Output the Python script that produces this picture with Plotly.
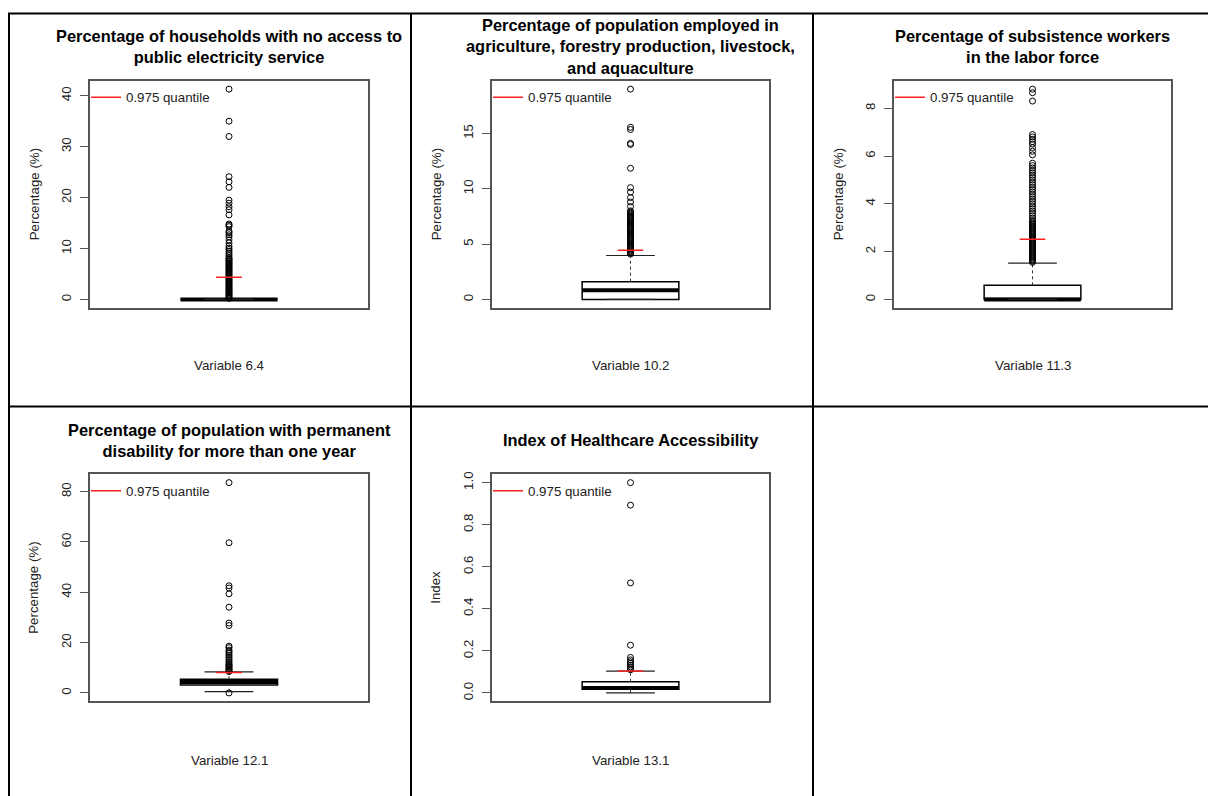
import plotly.graph_objects as go

# ---------------- data ----------------
titles = [
    "Percentage of households with no access to<br>public electricity service",
    "Percentage of population employed in<br>agriculture, forestry production, livestock,<br>and aquaculture",
    "Percentage of subsistence workers<br>in the labor force",
    "Percentage of population with permanent<br>disability for more than one year",
    "Index of Healthcare Accessibility",
]
variables = ["Variable 6.4", "Variable 10.2", "Variable 11.3", "Variable 12.1", "Variable 13.1"]
y_titles = ["Percentage (%)", "Percentage (%)", "Percentage (%)", "Percentage (%)", "Index"]

q1 = [0.0, 0.0, 0.0, 3.2, 0.0175]
median = [0.0, 0.83, 0.0, 4.35, 0.024]
q3 = [0.0, 1.6, 0.59, 5.4, 0.053]
lower_whisker = [0.0, 0.0, 0.0, 0.5, 0.0]
upper_whisker = [0.0, 3.97, 1.52, 8.4, 0.104]
quantile_975 = [4.35, 4.45, 2.52, 8.17, 0.104]

outliers_6_4 = [
    0.2, 0.4, 0.6, 0.8, 1.0, 1.2, 1.4, 1.6, 1.8, 2.0, 2.2, 2.4, 2.6, 2.8, 3.0,
    3.2, 3.4, 3.6, 3.8, 4.0, 4.2, 4.4, 4.6, 4.8, 5.0, 5.2, 5.4, 5.6, 5.8, 6.0,
    6.2, 6.4, 6.6, 6.8, 7.0, 7.2, 7.4, 7.6, 7.8, 8.0, 8.2,
    8.6, 9.0, 9.4, 9.8, 10.1, 10.5, 11.1, 11.7, 12.3, 12.7, 13.1, 13.4, 14.3,
    14.6, 14.8, 16.6, 17.6, 18.2, 18.9, 19.5, 22.0, 23.1, 24.1, 32.0, 35.0, 41.3,
]
outliers_10_2 = [
    4.1, 4.2, 4.3, 4.4, 4.5, 4.6, 4.7, 4.8, 4.9, 5.0, 5.1, 5.2, 5.3, 5.4, 5.5,
    5.6, 5.7, 5.8, 5.9, 6.0, 6.1, 6.2, 6.3, 6.4, 6.5, 6.6, 6.7, 6.8, 6.9, 7.0,
    7.1, 7.2, 7.3, 7.4, 7.5, 7.6, 7.7, 7.8, 7.9, 8.0,
    8.4, 8.8, 9.2, 9.7, 10.1, 11.85, 14.0, 14.1, 15.35, 15.55, 19.0,
]
outliers_11_3 = [
    1.55, 1.6, 1.65, 1.7, 1.75, 1.8, 1.85, 1.9, 1.95, 2.0, 2.05, 2.1, 2.15, 2.2,
    2.25, 2.3, 2.35, 2.4, 2.45, 2.5, 2.55, 2.6, 2.65, 2.7, 2.75, 2.8, 2.85, 2.9,
    2.95, 3.0, 3.05, 3.1, 3.15, 3.2, 3.25,
    3.3, 3.4, 3.5, 3.6, 3.7, 3.8, 3.9, 4.0, 4.1, 4.2, 4.3, 4.4, 4.5, 4.6, 4.7,
    4.8, 4.9, 5.0, 5.1, 5.2, 5.3, 5.4, 5.5, 5.6, 5.7,
    6.05, 6.2, 6.35, 6.5, 6.6, 6.7, 6.8, 6.9, 8.3, 8.65, 8.8,
]
outliers_12_1 = [
    0.0,
    8.5, 8.9, 9.3, 9.7, 10.1, 10.5, 10.9, 11.3, 11.7, 12.4, 13.0, 13.7, 14.3,
    15.0, 15.7, 16.4, 17.0, 18.0, 18.6, 26.8, 27.8, 34.1, 39.4, 41.7, 42.6,
    59.7, 83.6,
]
outliers_13_1 = [0.11, 0.115, 0.124, 0.132, 0.14, 0.148, 0.157, 0.169, 0.227, 0.523, 0.893, 1.0]
outliers = [outliers_6_4, outliers_10_2, outliers_11_3, outliers_12_1, outliers_13_1]

tick_step = [10, 5, 2, 20, 0.2]
tick_format = ["d", "d", "d", "d", ".1f"]

# ---------------- layout / style ----------------
W, H = 1208, 796
FONT = "Liberation Sans, Arial, sans-serif"
# plot areas in pixels: left, right, top, bottom
plot_px = [(90, 368, 78, 306), (492, 769, 78, 306), (894, 1171, 78, 306),
           (90, 368, 473, 701), (492, 769, 473, 701)]
title_y_px = [44, 44, 44, 439, 439]
xlab_y_px = [364, 364, 364, 760, 760]
BOX_HALF = 0.1885
STAPLE_HALF = 0.095
Q_HALF = 0.05
XPOS = 1.0


def px(x):
    return x / W


def py(y):
    return 1 - y / H


fig = go.Figure()
layout = dict(
    width=W, height=H, margin=dict(l=0, r=0, t=0, b=0),
    paper_bgcolor="white", plot_bgcolor="white",
    font=dict(family=FONT, color="#222"),
    showlegend=True,
)
annotations = []
shapes = []

for i in range(5):
    ax = "" if i == 0 else str(i + 1)
    xref, yref = "x" + ax, "y" + ax
    L, R, T, B = plot_px[i]
    allv = outliers[i] + [lower_whisker[i], upper_whisker[i], q1[i], q3[i]]
    vmin, vmax = min(allv), max(allv)
    ext = 0.04 * (vmax - vmin)

    layout["xaxis" + ax] = dict(
        domain=[px(L), px(R)], range=[0.46, 1.54], anchor=yref,
        showline=True, mirror=True, linecolor="#555", linewidth=1.5,
        showticklabels=False, ticks="", showgrid=False, zeroline=False,
    )
    layout["yaxis" + ax] = dict(
        domain=[py(B), py(T)], range=[vmin - ext, vmax + ext], anchor=xref,
        tick0=0, dtick=tick_step[i], tickformat=tick_format[i],
        ticks="outside", ticklen=8, tickwidth=1, tickcolor="#555",
        tickangle=-90, tickfont=dict(size=13.3, color="#222", family=FONT),
        ticklabelstandoff=4,
        showline=True, mirror=True, linecolor="#555", linewidth=1.5,
        showgrid=False, zeroline=False,
    )

    # box
    fig.add_trace(go.Box(
        x=[XPOS], q1=[q1[i]], median=[median[i]], q3=[q3[i]],
        lowerfence=[q1[i]], upperfence=[q3[i]], width=2 * BOX_HALF,
        fillcolor="white", line=dict(color="black", width=1.5),
        whiskerwidth=0, boxpoints=False, showlegend=False,
        xaxis=xref, yaxis=yref, hoverinfo="skip",
    ))
    # median
    fig.add_trace(go.Scatter(
        x=[XPOS - BOX_HALF, XPOS + BOX_HALF], y=[median[i], median[i]],
        mode="lines", line=dict(color="black", width=4),
        showlegend=False, xaxis=xref, yaxis=yref, hoverinfo="skip",
    ))
    # whiskers (dashed)
    for a, b in ((q3[i], upper_whisker[i]), (lower_whisker[i], q1[i])):
        fig.add_trace(go.Scatter(
            x=[XPOS, XPOS], y=[a, b], mode="lines",
            line=dict(color="#333", width=1, dash="3px,3px"),
            showlegend=False, xaxis=xref, yaxis=yref, hoverinfo="skip",
        ))
    # staples
    for v in (upper_whisker[i], lower_whisker[i]):
        fig.add_trace(go.Scatter(
            x=[XPOS - STAPLE_HALF, XPOS + STAPLE_HALF], y=[v, v], mode="lines",
            line=dict(color="#222", width=1.2),
            showlegend=False, xaxis=xref, yaxis=yref, hoverinfo="skip",
        ))
    # outliers
    fig.add_trace(go.Scatter(
        x=[XPOS] * len(outliers[i]), y=outliers[i], mode="markers",
        marker=dict(symbol="circle-open", size=6, color="black", line=dict(width=1)),
        showlegend=False, xaxis=xref, yaxis=yref, hoverinfo="skip",
    ))
    # 0.975 quantile
    leg = "legend" if i == 0 else "legend" + str(i + 1)
    fig.add_trace(go.Scatter(
        x=[XPOS - Q_HALF, XPOS + Q_HALF], y=[quantile_975[i], quantile_975[i]],
        mode="lines", line=dict(color="#ff2020", width=1.5),
        name="0.975 quantile", showlegend=True, legend=leg,
        xaxis=xref, yaxis=yref, hoverinfo="skip",
    ))
    layout[leg] = dict(
        x=px(L - 4), y=py(T + 17), xanchor="left", yanchor="middle",
        bgcolor="rgba(0,0,0,0)", borderwidth=0,
        font=dict(size=13.3, color="#222", family=FONT),
    )

    cx = (L + R) / 2
    annotations.append(dict(
        x=px(cx), y=py(title_y_px[i]), xref="paper", yref="paper",
        text="<b>" + titles[i] + "</b>", showarrow=False,
        xanchor="center", yanchor="middle", align="center",
        font=dict(size=16.4, color="black", family=FONT),
    ))
    annotations.append(dict(
        x=px(cx), y=py(xlab_y_px[i]), xref="paper", yref="paper",
        text=variables[i], showarrow=False, xanchor="center", yanchor="middle",
        font=dict(size=13.3, color="#222", family=FONT),
    ))
    annotations.append(dict(
        x=px(L - 56), y=py((T + B) / 2), xref="paper", yref="paper",
        text=y_titles[i], showarrow=False, textangle=-90,
        xanchor="center", yanchor="middle",
        font=dict(size=13.3, color="#222", family=FONT),
    ))

# table borders
for (x0, y0, x1, y1) in [(8, 10.5, W, 10.5), (8, 405, W, 405),
                         (9, 10, 9, H), (411, 10, 411, H), (813, 10, 813, H)]:
    shapes.append(dict(type="line", xref="paper", yref="paper",
                       x0=px(x0), y0=py(y0), x1=px(x1), y1=py(y1),
                       line=dict(color="black", width=2)))

layout["annotations"] = annotations
layout["shapes"] = shapes
fig.update_layout(**layout)
fig.write_html(
    "out.html",
    config={"displayModeBar": False},
    post_script="document.body.style.margin='0';document.body.style.overflow='hidden';",
)
